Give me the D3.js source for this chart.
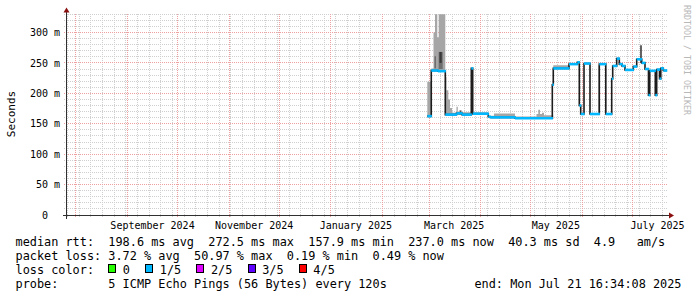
<!DOCTYPE html>
<html><head><meta charset="utf-8">
<script src="https://cdn.jsdelivr.net/npm/d3@7"></script>
<style>
html,body{margin:0;padding:0;background:#fff;}
svg{display:block;font-family:"DejaVu Sans Mono",monospace;}
text{white-space:pre;}
</style></head><body>
<svg id="chart" width="697" height="297"></svg>
<script>
// ---------------- data ----------------
const timeStart = "2024-07-26T16:34:08Z";
const timeEnd   = "2025-07-21T16:34:08Z";

const yTickValues = [0, 50, 100, 150, 200, 250, 300];            // ms
const yTickLabels = ["0\u00a0\u00a0", "50 m", "100 m", "150 m", "200 m", "250 m", "300 m"];

const monthLabelDates = ["2024-09-01", "2024-11-01", "2025-01-01", "2025-03-01", "2025-05-01", "2025-07-01"];
const monthLabelTexts = ["September 2024", "November 2024", "January 2025", "March 2025", "May 2025", "July 2025"];

// median rtt (ms), step series
const medianTimes = [
  "2025-02-27T21:00Z","2025-03-02T06:00Z","2025-03-06T07:00Z","2025-03-10T16:00Z","2025-03-17T09:00Z",
  "2025-03-20T16:30Z","2025-03-26T06:30Z","2025-03-27T02:40Z","2025-04-05T11:00Z","2025-04-06T16:00Z",
  "2025-04-21T12:00Z","2025-05-13T21:00Z","2025-05-14T11:00Z","2025-05-23T21:30Z","2025-05-28T21:00Z",
  "2025-05-30T01:40Z","2025-05-30T22:00Z","2025-06-01T21:30Z","2025-06-05T11:45Z","2025-06-11T01:40Z",
  "2025-06-14T23:20Z","2025-06-18T12:15Z","2025-06-19T02:40Z","2025-06-21T12:15Z","2025-06-23T01:40Z",
  "2025-06-24T16:30Z","2025-06-26T11:45Z","2025-07-01T11:15Z","2025-07-03T12:15Z","2025-07-06T12:15Z",
  "2025-07-08T11:45Z","2025-07-10T14:00Z","2025-07-11T07:30Z","2025-07-14T16:00Z","2025-07-15T12:15Z",
  "2025-07-17T04:30Z","2025-07-17T23:15Z","2025-07-19T11:15Z","2025-07-21T12:00Z"
];
const medianValues = [
  162.5, 237.5, 236.5, 165, 167,
  165, 241, 166.5, 161.5, 160.5,
  159, 214, 241, 248, 251,
  180, 166, 249, 166, 248,
  166, 224, 245, 257, 248,
  245, 238.5, 244, 256, 250,
  240, 197, 237, 197, 239,
  224, 241, 237.5, 237.5
];

// light smoke (ms), step series
const smokeTimes = [
  "2025-02-27T21:00Z","2025-03-02T06:00Z","2025-03-03T14:00Z","2025-03-04T11:45Z","2025-03-05T21:00Z",
  "2025-03-06T17:00Z","2025-03-10T16:00Z","2025-03-11T09:20Z","2025-03-12T11:15Z","2025-03-13T11:45Z",
  "2025-03-14T16:30Z","2025-03-17T09:00Z","2025-03-18T04:00Z","2025-04-05T11:00Z","2025-04-08T21:30Z",
  "2025-04-21T12:00Z","2025-05-04T09:20Z","2025-05-05T11:15Z","2025-05-06T11:45Z","2025-05-07T16:30Z",
  "2025-05-08T21:20Z","2025-05-14T11:00Z","2025-05-23T21:30Z","2025-05-28T21:00Z","2025-06-10T11:15Z",
  "2025-06-11T01:40Z","2025-07-21T12:00Z"
];
const smokeLo = [160, 236, 236, 236, 236, 236, 164, 164, 164, 164, 164, 165, 165, 160, 160, 158, 158, 158, 158, 158, 158, 240, 247, 250, 168, 248, 248];
const smokeHi = [219, 241, 300, 330, 292, 330, 227, 205, 190, 176, 168, 178, 169, 163, 167, 162, 166, 173, 166, 168, 164, 246, 250, 250, 246, 248, 248];

// dense (dark) smoke blocks
const denseStart = ["2025-03-04T04:30Z","2025-03-06T17:00Z","2025-03-07T04:30Z","2025-03-19T04:30Z","2025-07-05T16:00Z"];
const denseEnd   = ["2025-03-05T02:10Z","2025-03-09T02:40Z","2025-03-08T12:15Z","2025-03-20T09:20Z","2025-07-06T12:15Z"];
const denseLo    = [241, 240, 250, 165, 250];
const denseHi    = [261, 268, 268, 172, 279];
const denseShade = ["#6e6e6e", "#6e6e6e", "#3a3a3a", "#555555", "#222222"];

// legend
const legendLine1 = "median rtt:  198.6 ms avg  272.5 ms max  157.9 ms min  237.0 ms now  40.3 ms sd  4.9   am/s";
const legendLine2 = "packet loss: 3.72 % avg  50.97 % max  0.19 % min  0.49 % now";
const legendLine3 = "loss color:  ";
const lossLabels = ["0", "1/5", "2/5", "3/5", "4/5"];
const lossColors = ["#26ff00", "#00b8ff", "#dd00ff", "#5e00ff", "#ff0000"];
const legendLine4 = "probe:       5 ICMP Echo Pings (56 Bytes) every 120s";
const legendEnd = "end: Mon Jul 21 16:34:08 2025";
const yTitle = "Seconds";
const watermark = "RRDTOOL / TOBI OETIKER";

// ---------------- drawing ----------------
const svg = d3.select("#chart");
const x = d3.scaleUtc().domain([new Date(timeStart), new Date(timeEnd)]).range([67, 667]);
const y = d3.scaleLinear().domain([0, 330]).range([215, 14.25]);
const px = v => Math.floor(v) + 0.5;

const minorCol = "#cfcfcf", majorCol = "#eea0a0";
const grid = svg.append("g").attr("shape-rendering", "crispEdges");

// horizontal grid
const minorY = d3.range(10, 331, 10).filter(v => v % 50 !== 0);
grid.selectAll(".hmin").data(minorY).join("line")
  .attr("x1", 64).attr("x2", 667).attr("y1", d => px(y(d))).attr("y2", d => px(y(d)))
  .attr("stroke", minorCol).attr("stroke-dasharray", "1,1");
// vertical minor (weekly)
const weeks = d3.utcSaturday.range(new Date(timeStart), new Date(timeEnd));
grid.selectAll(".vmin").data(weeks).join("line")
  .attr("x1", d => px(x(d))).attr("x2", d => px(x(d))).attr("y1", 14).attr("y2", 218)
  .attr("stroke", minorCol).attr("stroke-dasharray", "1,1");
// major
const majorY = yTickValues.filter(v => v > 0);
grid.selectAll(".hmaj").data(majorY).join("line")
  .attr("x1", 64).attr("x2", 667).attr("y1", d => px(y(d))).attr("y2", d => px(y(d)))
  .attr("stroke", majorCol).attr("stroke-dasharray", "1,1");
const months = d3.utcMonth.range(new Date(timeStart), new Date(timeEnd));
grid.selectAll(".vmaj").data(months).join("line")
  .attr("x1", d => px(x(d))).attr("x2", d => px(x(d))).attr("y1", 14).attr("y2", 218)
  .attr("stroke", majorCol).attr("stroke-dasharray", "1,1");

// smoke
const smoke = smokeTimes.map((t, i) => ({t: new Date(t), lo: smokeLo[i], hi: smokeHi[i]}));
svg.append("path").datum(smoke)
  .attr("d", d3.area().x(d => x(d.t)).y0(d => y(d.lo)).y1(d => y(Math.min(d.hi, 330))).curve(d3.curveStepAfter))
  .attr("fill", "#a6a6a6");
const dense = denseStart.map((s, i) => ({s: new Date(s), e: new Date(denseEnd[i]), lo: denseLo[i], hi: denseHi[i], c: denseShade[i]}));
svg.selectAll(".dense").data(dense).join("rect")
  .attr("x", d => x(d.s)).attr("width", d => x(d.e) - x(d.s))
  .attr("y", d => y(d.hi)).attr("height", d => y(d.lo) - y(d.hi))
  .attr("fill", d => d.c);

// median
const med = medianTimes.map((t, i) => ({t: new Date(t), v: medianValues[i]}));
svg.append("path").datum(med)
  .attr("d", d3.line().x(d => x(d.t)).y(d => y(d.v)).curve(d3.curveStepAfter))
  .attr("fill", "none").attr("stroke", "#1c1c1c").attr("stroke-width", 1.6);
const segs = med.slice(0, -1).map((d, i) => ({t0: d.t, t1: med[i + 1].t, v: d.v}));
svg.selectAll(".seg").data(segs).join("line")
  .attr("x1", d => x(d.t0)).attr("x2", d => x(d.t1) + 0.6)
  .attr("y1", d => y(d.v)).attr("y2", d => y(d.v))
  .attr("stroke", "#00b8ff").attr("stroke-width", 2.6);

// axes
const axisCol = "#303030", arrowCol = "#8b1010";
svg.append("line").attr("x1", 63).attr("x2", 669).attr("y1", 215.5).attr("y2", 215.5)
  .attr("stroke", axisCol).attr("shape-rendering", "crispEdges");
svg.append("line").attr("x1", 66.5).attr("x2", 66.5).attr("y1", 219).attr("y2", 12)
  .attr("stroke", axisCol).attr("shape-rendering", "crispEdges");
svg.append("path").attr("d", "M669,212.5L674,215.5L669,218.5Z").attr("fill", arrowCol);
svg.append("path").attr("d", "M63.5,12.5L66.5,7.5L69.5,12.5Z").attr("fill", arrowCol);

// y tick labels
svg.selectAll(".ylab").data(yTickValues).join("text")
  .attr("x", 60).attr("y", d => y(d) + 3.6).attr("text-anchor", "end")
  .attr("font-size", "10px").attr("fill", "#000")
  .text((d, i) => yTickLabels[i]);

// month labels (centered half a month after the month start)
svg.selectAll(".xlab").data(monthLabelDates).join("text")
  .attr("x", d => x(d3.utcDay.offset(new Date(d + "T00:00Z"), 15)))
  .attr("y", 228.5).attr("text-anchor", "middle")
  .attr("font-size", "10px").attr("fill", "#000")
  .text((d, i) => monthLabelTexts[i]);

// y title
svg.append("text").attr("transform", "translate(15,114) rotate(-90)")
  .attr("text-anchor", "middle").attr("font-size", "11px").attr("fill", "#000").text(yTitle);

// watermark
svg.append("text").attr("transform", "translate(683.5,5) rotate(90)")
  .attr("text-anchor", "start").attr("font-size", "8.3px").attr("fill", "#b8b8b8").text(watermark);

// legend
const lf = 11.86, cw = lf * 0.6021, lx = 15.5;
const leg = svg.append("g").attr("font-size", lf + "px").attr("fill", "#000");
leg.append("text").attr("x", lx).attr("y", 245.5).text(legendLine1);
leg.append("text").attr("x", lx).attr("y", 259.5).text(legendLine2);
leg.append("text").attr("x", lx).attr("y", 273.5).text(legendLine3);
leg.append("text").attr("x", lx).attr("y", 287.5).text(legendLine4);
leg.append("text").attr("x", 681.5).attr("y", 287.5).attr("text-anchor", "end").text(legendEnd);
let bx = lx + legendLine3.length * cw;
lossLabels.forEach((lab, i) => {
  leg.append("rect").attr("x", Math.round(bx) + 0.5).attr("y", 264.5).attr("width", 7).attr("height", 8)
    .attr("fill", lossColors[i]).attr("stroke", "#000").attr("stroke-width", 1).attr("shape-rendering", "crispEdges");
  const tx = bx + 14.5;
  leg.append("text").attr("x", tx).attr("y", 273.5).text(lab);
  bx = tx + (lab.length + 2) * cw + 1;
});
</script>
</body></html>
